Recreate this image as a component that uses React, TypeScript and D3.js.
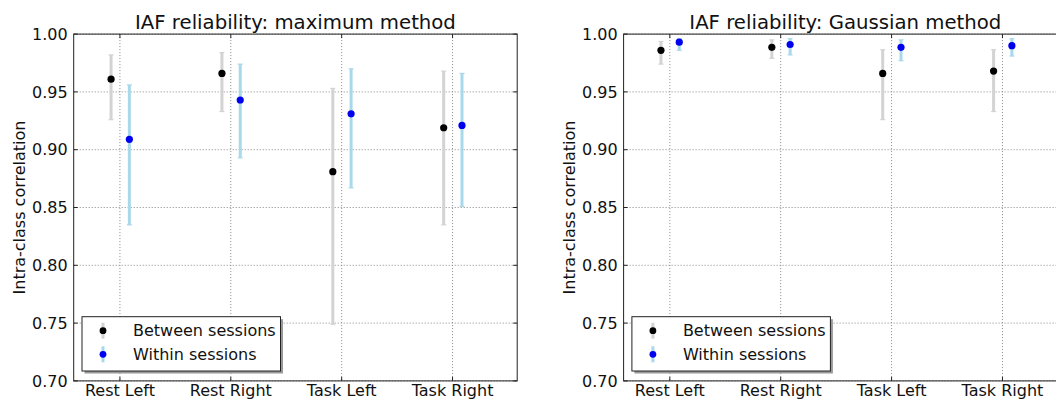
import { useEffect, useRef } from "react";
import * as d3 from "d3";

const categories = ["Rest Left", "Rest Right", "Task Left", "Task Right"];
const yTicks = [0.7, 0.75, 0.8, 0.85, 0.9, 0.95, 1.0];

// maximum method
const maxBetween = [0.961, 0.966, 0.881, 0.919];
const maxBetweenLo = [0.926, 0.933, 0.749, 0.835];
const maxBetweenHi = [0.982, 0.984, 0.953, 0.968];
const maxWithin = [0.909, 0.943, 0.931, 0.921];
const maxWithinLo = [0.835, 0.893, 0.867, 0.851];
const maxWithinHi = [0.956, 0.974, 0.97, 0.966];

// gaussian method
const gaussBetween = [0.986, 0.9886, 0.966, 0.968];
const gaussBetweenLo = [0.974, 0.979, 0.926, 0.933];
const gaussBetweenHi = [0.9936, 0.995, 0.9865, 0.9865];
const gaussWithin = [0.993, 0.991, 0.9886, 0.99];
const gaussWithinLo = [0.986, 0.982, 0.977, 0.981];
const gaussWithinHi = [0.996, 0.996, 0.995, 0.996];

const seriesNames = ["Between sessions", "Within sessions"];

const FONT = "DejaVu Sans, Bitstream Vera Sans, sans-serif";
const WIDTH = 1056;
const HEIGHT = 399;

interface Series {
  values: number[];
  lo: number[];
  hi: number[];
  offset: number;
  dot: string;
  bar: string;
}

interface Panel {
  title: string;
  left: number;
  series: Series[];
}

export default function App() {
  const svgRef = useRef<SVGSVGElement>(null);

  useEffect(() => {
    if (!svgRef.current) return;
    const svg = d3.select(svgRef.current);
    svg.selectAll("*").remove();

    const top = 34.1;
    const bottom = 380.9;
    const plotW = 443.5;

    const panels: Panel[] = [
      {
        title: "IAF reliability: maximum method",
        left: 73.7,
        series: [
          { values: maxBetween, lo: maxBetweenLo, hi: maxBetweenHi, offset: -0.08, dot: "#000000", bar: "#d3d3d3" },
          { values: maxWithin, lo: maxWithinLo, hi: maxWithinHi, offset: 0.085, dot: "#0000ee", bar: "#a8d8ea" },
        ],
      },
      {
        title: "IAF reliability: Gaussian method",
        left: 623.6,
        series: [
          { values: gaussBetween, lo: gaussBetweenLo, hi: gaussBetweenHi, offset: -0.08, dot: "#000000", bar: "#d3d3d3" },
          { values: gaussWithin, lo: gaussWithinLo, hi: gaussWithinHi, offset: 0.085, dot: "#0000ee", bar: "#a8d8ea" },
        ],
      },
    ];

    panels.forEach((p) => {
      const x = d3
        .scaleLinear()
        .domain([-0.417, 3.583])
        .range([p.left, p.left + plotW]);
      const y = d3.scaleLinear().domain([0.7, 1.0]).range([bottom, top]);

      const g = svg.append("g");

      // grid
      g.selectAll(".hgrid")
        .data(yTicks)
        .join("line")
        .attr("x1", p.left)
        .attr("x2", p.left + plotW)
        .attr("y1", (d) => y(d))
        .attr("y2", (d) => y(d))
        .style("stroke", "#888")
        .style("stroke-width", 1)
        .style("stroke-dasharray", "1,2");
      g.selectAll(".vgrid")
        .data(categories)
        .join("line")
        .attr("x1", (d, i) => x(i))
        .attr("x2", (d, i) => x(i))
        .attr("y1", top)
        .attr("y2", bottom)
        .style("stroke", "#888")
        .style("stroke-width", 1)
        .style("stroke-dasharray", "1,2");

      // error bars + points
      p.series.forEach((s) => {
        const eb = g.append("g");
        eb.selectAll(".bar")
          .data(s.values)
          .join("line")
          .attr("x1", (d, i) => x(i + s.offset))
          .attr("x2", (d, i) => x(i + s.offset))
          .attr("y1", (d, i) => y(s.lo[i]))
          .attr("y2", (d, i) => y(s.hi[i]))
          .style("stroke", s.bar)
          .style("stroke-width", 3);
        [s.lo, s.hi].forEach((arr) => {
          eb.selectAll(null)
            .data(arr)
            .join("line")
            .attr("x1", (d, i) => x(i + s.offset) - 2.5)
            .attr("x2", (d, i) => x(i + s.offset) + 2.5)
            .attr("y1", (d) => y(d))
            .attr("y2", (d) => y(d))
            .style("stroke", s.bar)
            .style("stroke-width", 1.2);
        });
        eb.selectAll("circle")
          .data(s.values)
          .join("circle")
          .attr("cx", (d, i) => x(i + s.offset))
          .attr("cy", (d) => y(d))
          .attr("r", 3.6)
          .style("fill", s.dot);
      });

      // frame
      g.append("rect")
        .attr("x", p.left)
        .attr("y", top)
        .attr("width", plotW)
        .attr("height", bottom - top)
        .style("fill", "none")
        .style("stroke", "#222")
        .style("stroke-width", 1);

      // inward ticks
      yTicks.forEach((t) => {
        g.append("line")
          .attr("x1", p.left).attr("x2", p.left + 4)
          .attr("y1", y(t)).attr("y2", y(t))
          .style("stroke", "#222");
        g.append("line")
          .attr("x1", p.left + plotW - 4).attr("x2", p.left + plotW)
          .attr("y1", y(t)).attr("y2", y(t))
          .style("stroke", "#222");
      });
      categories.forEach((c, i) => {
        g.append("line")
          .attr("x1", x(i)).attr("x2", x(i))
          .attr("y1", bottom).attr("y2", bottom - 4)
          .style("stroke", "#222");
        g.append("line")
          .attr("x1", x(i)).attr("x2", x(i))
          .attr("y1", top).attr("y2", top + 4)
          .style("stroke", "#222");
      });

      // tick labels
      g.selectAll(".ylab")
        .data(yTicks)
        .join("text")
        .attr("x", p.left - 6)
        .attr("y", (d) => y(d))
        .attr("dy", "0.36em")
        .attr("text-anchor", "end")
        .style("font-family", FONT)
        .style("font-size", "16px")
        .style("fill", "#111")
        .text((d) => d3.format(".2f")(d));
      g.selectAll(".xlab")
        .data(categories)
        .join("text")
        .attr("x", (d, i) => x(i))
        .attr("y", 396)
        .attr("text-anchor", "middle")
        .style("font-family", FONT)
        .style("font-size", "16px")
        .style("fill", "#111")
        .text((d) => d);

      // axis label
      g.append("text")
        .attr("transform", `translate(${p.left - 54},${(top + bottom) / 2}) rotate(-90)`)
        .attr("dy", "0.36em")
        .attr("text-anchor", "middle")
        .style("font-family", FONT)
        .style("font-size", "16px")
        .style("fill", "#111")
        .text("Intra-class correlation");

      // title
      g.append("text")
        .attr("x", p.left + plotW / 2)
        .attr("y", 28.7)
        .attr("text-anchor", "middle")
        .style("font-family", FONT)
        .style("font-size", "19.7px")
        .style("fill", "#111")
        .text(p.title);

      // legend
      const lx = p.left + 8.3;
      const ly = 316.7;
      const lw = 198.5;
      const lh = 54.3;
      g.append("rect")
        .attr("x", lx + 2.5).attr("y", ly + 2.5)
        .attr("width", lw).attr("height", lh)
        .style("fill", "#999");
      g.append("rect")
        .attr("x", lx).attr("y", ly)
        .attr("width", lw).attr("height", lh)
        .style("fill", "#fff")
        .style("stroke", "#222")
        .style("stroke-width", 1);
      p.series.forEach((s, k) => {
        const cy = ly + 14 + k * 23.6;
        const mx = lx + 21;
        g.append("line")
          .attr("x1", mx).attr("x2", mx)
          .attr("y1", cy - 8).attr("y2", cy + 8)
          .style("stroke", s.bar)
          .style("stroke-width", 3);
        g.append("circle")
          .attr("cx", mx).attr("cy", cy)
          .attr("r", 3.4)
          .style("fill", s.dot);
        g.append("text")
          .attr("x", lx + 51)
          .attr("y", cy)
          .attr("dy", "0.36em")
          .style("font-family", FONT)
          .style("font-size", "16px")
          .style("fill", "#111")
          .text(seriesNames[k]);
      });
    });
  }, []);

  return (
    <svg
      ref={svgRef}
      width={WIDTH}
      height={HEIGHT}
      style={{ position: "absolute", left: 0, top: 0, background: "#fff" }}
    />
  );
}
